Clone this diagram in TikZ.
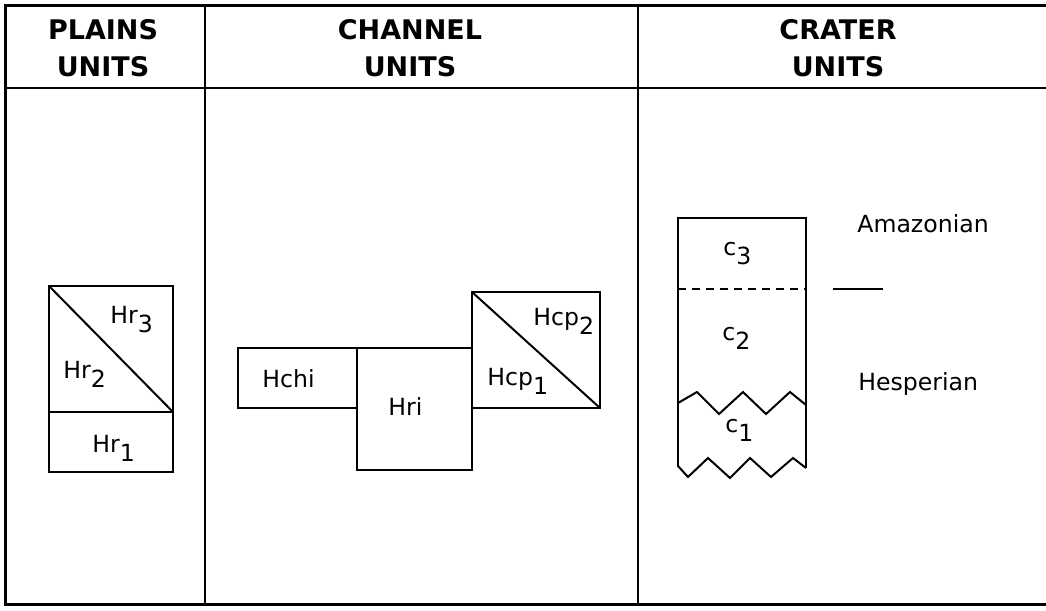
\documentclass[tikz,border=0pt]{standalone}
\usepackage{fontspec}
\setmainfont{DejaVu Sans}
\newcommand{\subidx}[1]{\raisebox{-4.5pt}{#1}}
\begin{document}
\begin{tikzpicture}[x=0.5pt, y=-0.5pt,
  frame/.style={line width=1.5pt},
  unit/.style={line width=1pt},
  head/.style={font=\fontsize{13.5}{18.5}\selectfont\bfseries, align=center},
  lbl/.style={font=\fontsize{11.8}{14}\selectfont, anchor=base west, inner sep=0pt},
  ]
 \useasboundingbox (0,0) rectangle (1046,611);
 % table
 \draw[frame] (1046,5) -- (5,5) -- (5,604) -- (1046,604);
 \draw[unit] (5,88) -- (1046,88);
 \draw[unit] (205,5) -- (205,604);
 \draw[unit] (638,5) -- (638,604);
 \node[head] (plainshd) at (103,48) {PLAINS\\UNITS};
 \node[head] (channelhd) at (410,48) {CHANNEL\\UNITS};
 \node[head] (craterhd) at (838,48) {CRATER\\UNITS};

 % plains units
 \draw[unit] (49,286) rectangle (173,472);
 \draw[unit] (49,412) -- (173,412);
 \draw[unit] (49,286) -- (173,412);
 \node[lbl] (hr3) at (110,323) {Hr\subidx{3}};
 \node[lbl] (hr2) at (63,378) {Hr\subidx{2}};
 \node[lbl] (hr1) at (92,452) {Hr\subidx{1}};

 % channel units
 \draw[unit] (238,348) rectangle (357,408);
 \draw[unit] (357,348) rectangle (472,470);
 \draw[unit] (472,292) rectangle (600,408);
 \draw[unit] (472,292) -- (600,408);
 \node[lbl] (hchi) at (262,387) {Hchi};
 \node[lbl] (hri) at (388,415) {Hri};
 \node[lbl] (hcp2) at (533,325) {Hcp\subidx{2}};
 \node[lbl] (hcp1) at (487,385) {Hcp\subidx{1}};

 % crater units
 \draw[unit] (678,467) -- (678,218) -- (806,218) -- (806,468);
 \draw[unit, dash pattern=on 4pt off 3pt] (678,289) -- (806,289);
 \draw[unit] (678,403) -- (697,392) -- (719,414) -- (743,392) -- (766,414) -- (790,392) -- (806,405);
 \draw[unit] (678,466) -- (688,477) -- (708,458) -- (730,478) -- (750,458) -- (771,477) -- (793,458) -- (806,468);
 \node[lbl] (c3) at (723,255) {c\subidx{3}};
 \node[lbl] (c2) at (722,340) {c\subidx{2}};
 \node[lbl] (c1) at (725,432) {c\subidx{1}};

 % periods
 \node[lbl] (amaz) at (857,232) {Amazonian};
 \node[lbl] (hesp) at (858,390) {Hesperian};
 \coordinate (bndl) at (833,289);
 \coordinate (bndr) at (883,289);
 \draw[unit] (bndl) -- (bndr);
\end{tikzpicture}
\end{document}
